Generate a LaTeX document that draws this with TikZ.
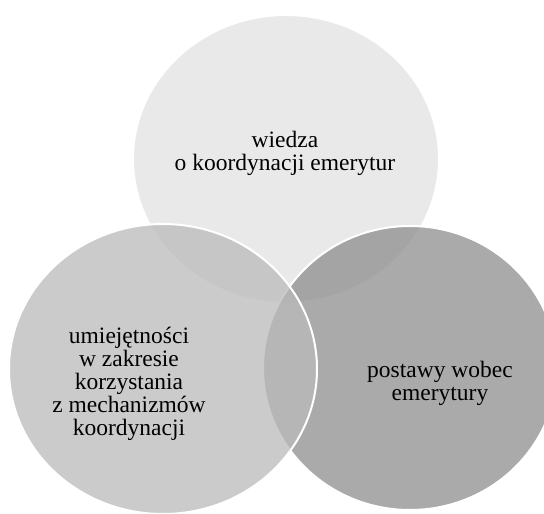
\documentclass[tikz,border=0pt]{standalone}
\usepackage{fontspec}
\setmainfont{Liberation Serif}
\usetikzlibrary{shapes.geometric}
\definecolor{topgray}{gray}{0.886}
\definecolor{leftgray}{gray}{0.729}
\definecolor{rightgray}{gray}{0.557}
\begin{document}
\begin{tikzpicture}[x=1pt,y=-1pt]
        \tikzstyle{circ}=[ellipse,draw=white,line width=2pt,fill opacity=0.75,inner sep=0pt]
        \tikzstyle{venntext}=[align=center,font=\fontsize{23.5}{23}\selectfont,text=black]
        \useasboundingbox (0,0) rectangle (544,514);
        \begin{scope}
                \clip (0,0) rectangle (544,514);
                \node [circ,fill=topgray,minimum width=306pt,minimum height=288pt] (wiedza) at (286,159) {};
                \node [circ,fill=rightgray,minimum width=294pt,minimum height=284pt] (postawy) at (410,368) {};
                \node [circ,fill=leftgray,minimum width=308pt,minimum height=290pt] (umiejetnosci) at (163,369) {};
        \end{scope}
        \node [venntext] (t1) at (285,153) {wiedza\\o koordynacji emerytur};
        \node [venntext] (t2) at (129,384) {umiejętności\\w zakresie\\korzystania\\z mechanizmów\\koordynacji};
        \node [venntext] (t3) at (440,383) {postawy wobec\\emerytury};
\end{tikzpicture}
\end{document}
